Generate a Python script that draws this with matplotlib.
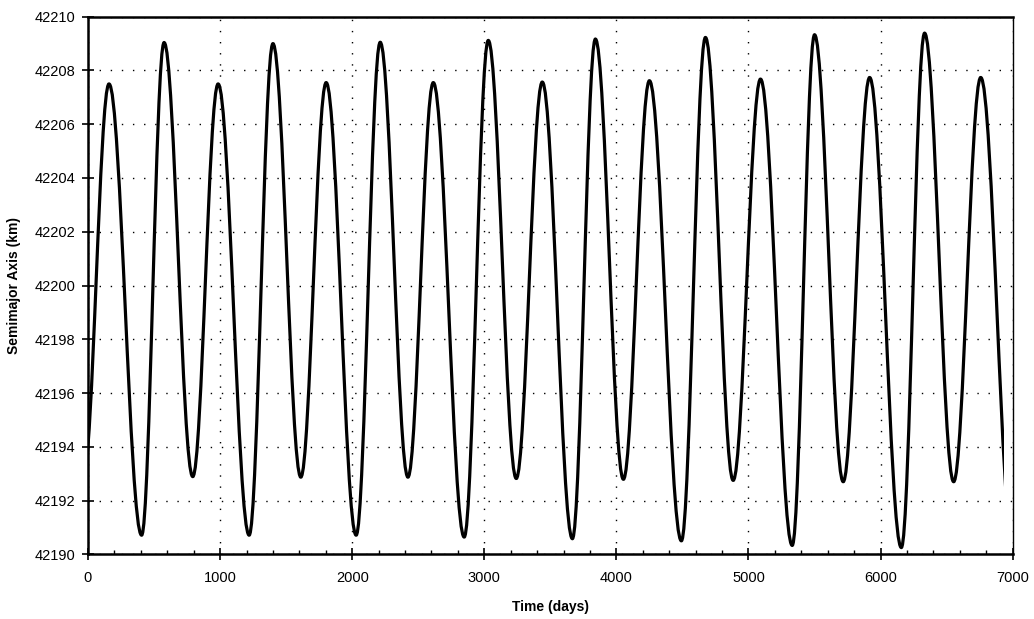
import matplotlib
matplotlib.use("Agg")
import matplotlib.pyplot as plt
from matplotlib.path import Path
from matplotlib.patches import PathPatch, Rectangle
from matplotlib.ticker import MultipleLocator

plt.rcParams['font.family'] = ['Liberation Sans', 'DejaVu Sans']

# Extrema of the semimajor-axis curve (time in days, value in km).
# First entry is the shallow trough just before t=0 and the last the deep trough just after
# the end of the record; the record itself runs from t=0 to t_end.
ext_time = [-35, 159, 406, 576, 793, 985, 1220, 1400, 1611, 1803, 2030, 2212, 2422,
            2614, 2848, 3030, 3242, 3439, 3667, 3841, 4053, 4250, 4492, 4674, 4884,
            5091, 5331, 5500, 5717, 5917, 6157, 6333, 6553, 6758, 7005]
ext_value = [42192.9, 42207.5, 42190.71, 42209.04, 42192.89, 42207.5, 42190.71, 42209.0,
             42192.87, 42207.55, 42190.71, 42209.05, 42192.87, 42207.55, 42190.64,
             42209.12, 42192.82, 42207.57, 42190.58, 42209.17, 42192.79, 42207.62,
             42190.5, 42209.23, 42192.75, 42207.68, 42190.33, 42209.33, 42192.70,
             42207.74, 42190.25, 42209.39, 42192.70, 42207.74, 42190.15]
t_start = 0
t_end = 6934

x_ticks = [0, 1000, 2000, 3000, 4000, 5000, 6000, 7000]
y_ticks = [42190, 42192, 42194, 42196, 42198, 42200, 42202, 42204, 42206, 42208, 42210]

fig = plt.figure(figsize=(10.34, 6.19), dpi=100)
ax = fig.add_axes([0.0851, 0.1045, 0.8943, 0.8685])

# smooth curve between extrema: cubic Bezier segments with horizontal tangents at extrema
k = 0.3642
verts = [(ext_time[0], ext_value[0])]
codes = [Path.MOVETO]
for i in range(1, len(ext_time)):
    t0, y0 = ext_time[i - 1], ext_value[i - 1]
    t1, y1 = ext_time[i], ext_value[i]
    h = t1 - t0
    verts += [(t0 + k * h, y0), (t1 - k * h, y1), (t1, y1)]
    codes += [Path.CURVE4] * 3
patch = PathPatch(Path(verts, codes), facecolor='none', edgecolor='black',
                  linewidth=2.3, capstyle='round', joinstyle='round', zorder=3)
ax.add_patch(patch)
clip = Rectangle((t_start, 42180), t_end - t_start, 40, transform=ax.transData)
patch.set_clip_path(clip)

ax.set_xlim(0, 7000)
ax.set_ylim(42190, 42210)
ax.set_xticks(x_ticks)
ax.set_yticks(y_ticks)
ax.set_xticklabels([str(v) for v in x_ticks])
ax.set_yticklabels([str(v) for v in y_ticks])
ax.xaxis.set_minor_locator(MultipleLocator(200))

ax.tick_params(axis='both', which='major', direction='inout', length=8, width=1.2,
               labelsize=10.5, color='black')
ax.tick_params(axis='x', which='major', pad=8)
ax.tick_params(axis='y', which='major', pad=5)
ax.tick_params(axis='x', which='minor', direction='in', length=3, width=1.0)

ax.grid(True, which='major', color='black', linewidth=1.0, linestyle=(0, (1, 7)))

for side in ['left', 'bottom', 'top']:
    ax.spines[side].set_linewidth(1.8)
ax.spines['right'].set_linewidth(1.0)

ax.set_xlabel('Time (days)', fontsize=10, fontweight='bold', labelpad=11)
ax.set_ylabel('Semimajor Axis (km)', fontsize=10, fontweight='bold', labelpad=10)

fig.savefig('out.png', dpi=100)
